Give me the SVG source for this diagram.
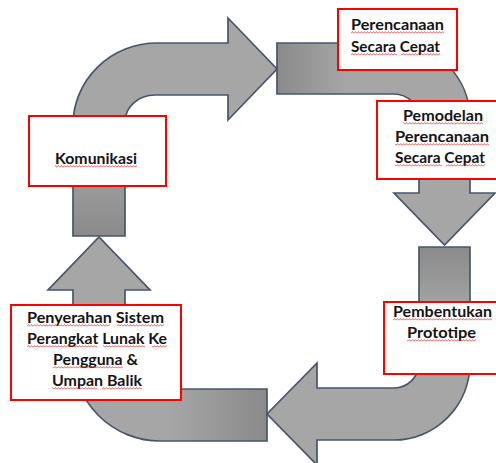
<svg xmlns="http://www.w3.org/2000/svg" width="496" height="463" viewBox="0 0 496 463">
  <style>
    .arr { fill:#a6a6a6; }
    .out { fill:none; stroke:#485569; stroke-width:1.7; stroke-linejoin:miter; }
    .box { fill:#ffffff; stroke:#ff0000; stroke-width:2; }
    .t { font-family:Lato, "Liberation Sans", sans-serif; font-weight:700; font-size:15.5px; fill:#141414; }
  </style>
  <defs>
    <path id="pA" d="M73,236 L73,125 A84,82 0 0 1 157,43 L228,43 L228,18 L277,69 L228,120 L228,95 L155,95 A30,27 0 0 0 125,122 L125,236 Z"/>
    <path id="pB" d="M277,43 L394,43 A76,76 0 0 1 470,119 L470,193 L495,193 L444.5,245 L394,193 L419,193 L419,119 A25,25 0 0 0 394,94 L277,94 Z"/>
    <path id="pC" d="M470,247 L470,363 A76,77 0 0 1 394,440 L317,440 L317,465 L267,414 L317,363 L317,388 L394,388 A25,25 0 0 0 419,363 L419,247 Z"/>
    <path id="pD" d="M267,389 L160,389 A35,35 0 0 1 125,354 L125,290 L150,290 L99,237 L48,290 L73,290 L73,354 A87,87 0 0 0 160,441 L267,441 Z"/>
    <linearGradient id="gUp" x1="0" y1="1" x2="0" y2="0">
      <stop offset="0" stop-color="#8a8a8a"/><stop offset="1" stop-color="#a6a6a6"/>
    </linearGradient>
    <linearGradient id="gRight" x1="0" y1="0" x2="1" y2="0">
      <stop offset="0" stop-color="#8a8a8a"/><stop offset="1" stop-color="#a6a6a6"/>
    </linearGradient>
    <linearGradient id="gDown" x1="0" y1="0" x2="0" y2="1">
      <stop offset="0" stop-color="#8a8a8a"/><stop offset="1" stop-color="#a6a6a6"/>
    </linearGradient>
    <linearGradient id="gLeft" x1="1" y1="0" x2="0" y2="0">
      <stop offset="0" stop-color="#8a8a8a"/><stop offset="1" stop-color="#a6a6a6"/>
    </linearGradient>
    <pattern id="w0" patternUnits="userSpaceOnUse" x="0" y="0" width="3" height="3">
      <polyline points="0,2.4 1.5,0.6 3,2.4" fill="none" stroke="#e52222" stroke-width="0.7"/>
    </pattern>
    <pattern id="w1" patternUnits="userSpaceOnUse" x="0" y="1" width="3" height="3">
      <polyline points="0,2.4 1.5,0.6 3,2.4" fill="none" stroke="#e52222" stroke-width="0.7"/>
    </pattern>
    <pattern id="w2" patternUnits="userSpaceOnUse" x="0" y="2" width="3" height="3">
      <polyline points="0,2.4 1.5,0.6 3,2.4" fill="none" stroke="#e52222" stroke-width="0.7"/>
    </pattern>
  </defs>
  <rect width="496" height="463" fill="#ffffff"/>

  <g id="connectors">
    <use href="#pA" class="arr"/>
    <use href="#pB" class="arr"/>
    <use href="#pC" class="arr"/>
    <use href="#pD" class="arr"/>
    <rect x="73" y="150" width="52" height="86" fill="url(#gUp)"/>
    <rect x="277" y="43" width="70" height="51" fill="url(#gRight)"/>
    <rect x="419" y="247" width="51" height="65" fill="url(#gDown)"/>
    <rect x="168" y="389" width="99" height="52" fill="url(#gLeft)"/>
    <use href="#pA" class="out"/>
    <use href="#pB" class="out"/>
    <use href="#pC" class="out"/>
    <use href="#pD" class="out"/>
  </g>

  <g id="node-perencanaan">
    <rect class="box" x="338" y="9" width="119" height="61"/>
    <text class="t" x="351" y="30" textLength="93" lengthAdjust="spacingAndGlyphs">Perencanaan</text>
    <text class="t" x="351" y="52" textLength="89" lengthAdjust="spacingAndGlyphs">Secara Cepat</text>
    <rect x="351" y="31" width="93" height="3" fill="url(#w1)"/>
    <rect x="351" y="53" width="46" height="3" fill="url(#w2)"/>
    <rect x="401" y="53" width="39" height="3" fill="url(#w2)"/>
  </g>

  <g id="node-pemodelan">
    <rect class="box" x="377" y="101" width="125" height="78"/>
    <text class="t" x="403" y="121" textLength="80" lengthAdjust="spacingAndGlyphs">Pemodelan</text>
    <text class="t" x="395" y="142" textLength="94" lengthAdjust="spacingAndGlyphs">Perencanaan</text>
    <text class="t" x="395" y="163" textLength="90" lengthAdjust="spacingAndGlyphs">Secara Cepat</text>
    <rect x="403" y="122" width="80" height="3" fill="url(#w2)"/>
    <rect x="395" y="143" width="94" height="3" fill="url(#w2)"/>
    <rect x="395" y="164" width="47" height="3" fill="url(#w2)"/>
    <rect x="446" y="164" width="39" height="3" fill="url(#w2)"/>
  </g>

  <g id="node-komunikasi">
    <rect class="box" x="29" y="116" width="137" height="70"/>
    <text class="t" x="55" y="164" textLength="82" lengthAdjust="spacingAndGlyphs">Komunikasi</text>
    <rect x="55" y="165" width="82" height="3" fill="url(#w0)"/>
  </g>

  <g id="node-pembentukan">
    <rect class="box" x="384" y="302" width="118" height="72"/>
    <text class="t" x="393" y="317" textLength="99" lengthAdjust="spacingAndGlyphs">Pembentukan</text>
    <text class="t" x="407" y="338" textLength="69" lengthAdjust="spacingAndGlyphs">Prototipe</text>
    <rect x="393" y="318" width="99" height="3" fill="url(#w0)"/>
    <rect x="407" y="339" width="69" height="3" fill="url(#w0)"/>
  </g>

  <g id="node-penyerahan">
    <rect class="box" x="11" y="305" width="170" height="95"/>
    <text class="t" x="27" y="323" textLength="137" lengthAdjust="spacingAndGlyphs">Penyerahan Sistem</text>
    <text class="t" x="27" y="344" textLength="140" lengthAdjust="spacingAndGlyphs">Perangkat Lunak  Ke</text>
    <text class="t" x="53" y="365" textLength="85" lengthAdjust="spacingAndGlyphs">Pengguna &amp;</text>
    <text class="t" x="52" y="386" textLength="90" lengthAdjust="spacingAndGlyphs">Umpan Balik</text>
    <rect x="27" y="324" width="83" height="3" fill="url(#w0)"/>
    <rect x="117" y="324" width="47" height="3" fill="url(#w0)"/>
    <rect x="27" y="345" width="70" height="3" fill="url(#w0)"/>
    <rect x="103" y="345" width="42" height="3" fill="url(#w0)"/>
    <rect x="152" y="345" width="15" height="3" fill="url(#w0)"/>
    <rect x="53" y="366" width="70" height="3" fill="url(#w0)"/>
    <rect x="52" y="387" width="45" height="3" fill="url(#w0)"/>
    <rect x="102" y="387" width="40" height="3" fill="url(#w0)"/>
  </g>
</svg>
